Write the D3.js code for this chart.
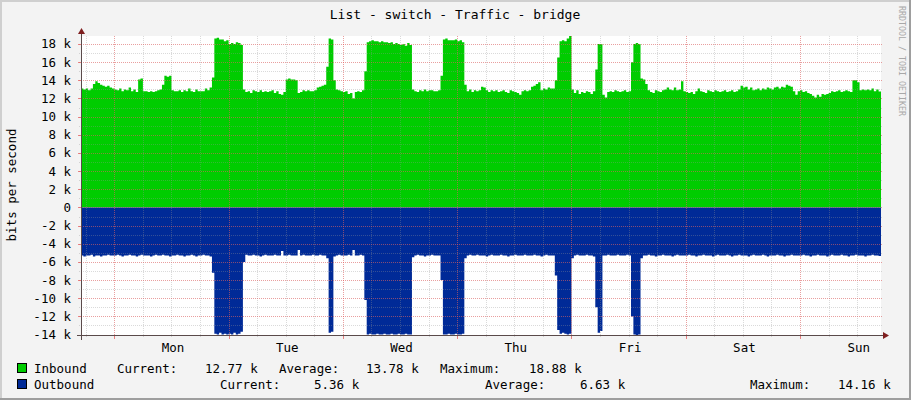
<!DOCTYPE html>
<html>
<head>
<meta charset="utf-8">
<script src="https://cdn.jsdelivr.net/npm/d3@7"></script>
<style>
  body { margin: 0; background: #f3f3f3; }
  svg text { font-family: "DejaVu Sans Mono", monospace; }
</style>
</head>
<body>
<script>
// Traffic values, in kbit/s, one sample every 30 minutes (Sun 17:00 -> Sun 17:00)
var inbound = [
  13.1, 13.0, 13.1, 12.9, 13.1, 13.6, 13.9, 13.7, 13.5, 13.4, 13.3, 13.4, 13.2, 13.1,
  // Mon
  13.0, 12.9, 13.1, 12.8, 13.0, 12.9, 13.2, 12.8, 13.0, 12.7,
  14.1, 14.2, 12.8, 12.8, 12.7, 12.8, 12.7, 12.8, 12.9, 13.0,
  13.5, 14.5, 14.4, 14.5, 12.9, 12.8, 12.8, 12.9, 12.7, 12.9,
  12.8, 13.1, 12.8, 12.7, 13.0, 12.8, 12.8, 12.8, 13.1, 12.9,
  13.2, 14.3, 18.6, 18.7, 18.5, 18.5, 18.3, 18.4,
  // Tue
  18.0, 18.1, 18.0, 18.2, 18.1, 17.9, 13.0, 12.7, 12.8, 12.6,
  12.9, 12.8, 12.7, 12.9, 12.7, 12.8, 12.7, 12.8, 12.9, 12.6,
  12.8, 12.5, 12.4, 12.7, 14.1, 14.2, 14.1, 14.1, 14.0, 12.6,
  12.7, 12.9, 12.8, 12.9, 12.8, 12.8, 12.9, 13.2, 13.3, 13.4,
  13.5, 15.5, 18.6, 18.5, 14.0, 13.0, 12.9, 12.8,
  // Wed
  12.7, 12.8, 12.5, 12.6, 12.0, 12.7, 12.8, 12.7, 12.9, 15.0,
  18.2, 18.3, 18.4, 18.3, 18.3, 18.2, 18.3, 18.2, 18.2, 18.1,
  18.2, 18.0, 18.1, 18.0, 17.9, 18.0, 17.8, 18.1, 17.9, 13.0,
  12.8, 12.7, 12.9, 12.8, 13.0, 12.8, 12.9, 12.9, 12.8, 12.8,
  12.9, 14.5, 18.5, 18.6, 18.4, 18.4, 18.4, 18.5,
  // Thu
  18.3, 18.4, 18.2, 13.5, 12.8, 13.0, 12.7, 12.9, 12.8, 12.9,
  13.3, 13.2, 12.9, 12.7, 12.9, 12.8, 12.9, 12.7, 12.8, 12.9,
  12.7, 12.6, 12.9, 12.8, 12.7, 12.6, 12.4, 12.8, 12.9, 12.8,
  12.9, 13.3, 13.4, 13.6, 13.8, 12.9, 13.1, 13.0, 13.2, 13.1,
  13.1, 14.0, 16.5, 18.3, 18.4, 18.3, 18.6, 18.88,
  // Fri
  13.0, 12.6, 12.9, 12.5, 12.7, 12.6, 12.8, 12.7, 12.5, 12.8,
  15.2, 18.0, 18.0, 12.4, 12.1, 12.7, 12.8, 12.7, 12.9, 12.8,
  12.7, 12.8, 12.9, 12.7, 12.8, 16.0, 18.0, 18.1, 18.0, 14.2,
  14.1, 13.6, 12.9, 12.7, 12.6, 12.9, 12.8, 12.7, 12.9, 13.0,
  13.2, 13.0, 12.9, 13.2, 12.9, 13.0, 13.9, 12.8,
  // Sat
  12.7, 12.6, 12.7, 12.5, 12.8, 13.1, 12.8, 12.7, 12.6, 12.9,
  12.8, 12.7, 12.9, 12.8, 12.7, 12.8, 12.9, 12.7, 12.8, 12.9,
  12.7, 12.8, 13.0, 13.4, 13.2, 13.3, 13.0, 13.2, 12.9, 13.0,
  13.1, 12.9, 13.1, 13.0, 13.2, 13.1, 13.0, 13.2, 13.3, 13.1,
  13.3, 13.2, 13.5, 13.4, 13.3, 12.8, 12.4, 12.8,
  // Sun
  12.9, 12.7, 12.8, 12.6, 12.5, 12.3, 12.1, 12.4, 12.2, 12.5,
  12.4, 12.5, 12.6, 12.8, 12.7, 12.8, 12.9, 12.7, 12.8, 12.9,
  12.8, 12.7, 14.0, 14.0, 13.8, 12.9, 13.0, 12.9, 13.0, 12.9,
  13.1, 12.8, 13.0, 12.77
]

var outbound = [
  5.3, 5.4, 5.3, 5.3, 5.2, 5.4, 5.3, 5.3, 5.4, 5.3, 5.3, 5.2, 5.3, 5.3,
  // Mon
  5.3, 5.2, 5.3, 5.4, 5.3, 5.3, 5.2, 5.3, 5.3, 5.4,
  5.3, 5.2, 5.3, 5.3, 5.3, 5.4, 5.3, 5.2, 5.3, 5.3,
  5.2, 5.3, 5.3, 5.4, 5.3, 5.3, 5.2, 5.3, 5.3, 5.4,
  5.3, 5.3, 5.2, 5.3, 5.4, 5.3, 5.3, 5.2, 5.3, 5.3,
  5.4, 7.2, 13.9, 14.0, 13.8, 14.0, 13.9, 14.0,
  // Tue
  13.9, 14.0, 13.8, 14.0, 13.9, 13.7, 6.0, 5.2, 5.3, 5.3,
  5.2, 5.3, 5.3, 5.4, 5.3, 5.2, 5.3, 5.3, 5.3, 5.2,
  5.3, 5.3, 4.8, 5.3, 5.3, 5.2, 5.3, 5.3, 5.3, 4.7,
  5.3, 5.2, 5.3, 5.3, 5.3, 5.2, 5.3, 5.3, 5.2, 5.3,
  5.3, 5.6, 13.8, 13.7, 5.4, 5.3, 5.2, 5.3,
  // Wed
  5.3, 5.3, 5.2, 5.3, 4.7, 5.3, 5.3, 5.2, 5.3, 10.2,
  14.0, 13.9, 14.0, 14.0, 13.9, 14.0, 14.0, 13.9, 14.0, 14.0,
  13.9, 14.0, 14.0, 13.9, 14.0, 14.0, 13.9, 14.0, 14.0, 5.5,
  5.3, 5.2, 5.3, 5.3, 5.4, 5.3, 5.3, 5.2, 5.3, 5.3,
  5.3, 8.0, 14.0, 14.0, 13.9, 14.0, 14.0, 13.9,
  // Thu
  14.0, 14.0, 13.9, 5.6, 5.3, 5.2, 5.3, 5.3, 5.2, 5.3,
  5.3, 5.3, 5.4, 5.3, 5.2, 5.3, 5.3, 5.3, 5.2, 5.3,
  5.3, 5.4, 5.3, 5.3, 5.2, 5.3, 5.3, 5.3, 5.2, 5.3,
  5.3, 5.3, 5.2, 5.3, 5.3, 5.4, 5.3, 5.2, 5.3, 5.3,
  5.3, 7.5, 13.5, 13.9, 13.8, 13.9, 14.0, 13.9,
  // Fri
  5.6, 5.3, 5.2, 5.3, 5.3, 5.3, 5.2, 5.3, 5.3, 5.4,
  11.0, 13.8, 13.6, 5.3, 5.3, 5.2, 5.3, 5.3, 5.3, 5.2,
  5.3, 5.3, 5.3, 5.2, 5.3, 12.0, 14.0, 14.16, 14.0, 5.6,
  5.3, 5.3, 5.2, 5.3, 5.3, 5.4, 5.3, 5.3, 5.2, 5.3,
  5.3, 5.3, 5.4, 5.3, 5.2, 5.3, 5.3, 5.3,
  // Sat
  5.3, 5.2, 5.3, 5.3, 5.4, 5.3, 5.3, 5.2, 5.3, 5.3,
  5.3, 5.4, 5.3, 5.2, 5.3, 5.3, 5.3, 5.2, 5.3, 5.4,
  5.3, 5.3, 5.2, 5.3, 5.3, 5.3, 5.4, 5.3, 5.2, 5.3,
  5.3, 5.3, 5.2, 5.3, 5.4, 5.3, 5.3, 5.3, 5.2, 5.3,
  5.3, 5.4, 5.3, 5.3, 5.2, 5.3, 5.3, 5.3,
  // Sun
  5.3, 5.2, 5.3, 5.3, 5.4, 5.3, 5.3, 5.2, 5.3, 5.3,
  5.3, 5.4, 5.3, 5.2, 5.3, 5.3, 5.3, 5.2, 5.3, 5.3,
  5.4, 5.3, 5.3, 5.2, 5.3, 5.3, 5.3, 5.4, 5.3, 5.3,
  5.2, 5.3, 5.3, 5.36
]

var dayLabels = ["Mon", "Tue", "Wed", "Thu", "Fri", "Sat", "Sun"]
var yTickValues = [-14, -12, -10, -8, -6, -4, -2, 0, 2, 4, 6, 8, 10, 12, 14, 16, 18]
var seriesNames = ["Inbound", "Outbound"]
var currentText = ["12.77 k", "5.36 k"]
var averageText = ["13.78 k", "6.63 k"]
var maximumText = ["18.88 k", "14.16 k"]

function main() {
    var width = 911, height = 400
    var left = 81, right = 881, top = 36, bottom = 336
    var step = 30 * 60 * 1000
    var start = new Date(2024, 0, 7, 17, 0)
    var end = new Date(+start + 7 * 24 * 3600 * 1000)

    var svg = d3.select('body').append('svg')
        .attr("width", width)
        .attr("height", height)

    // Background and frame.
    svg.append('rect').attr('width', width).attr('height', height).attr('fill', '#f3f3f3')
    svg.append('rect').attr('x', 0).attr('y', 0).attr('width', width).attr('height', 2).attr('fill', '#cfcfcf')
    svg.append('rect').attr('x', 0).attr('y', 0).attr('width', 2).attr('height', height).attr('fill', '#cfcfcf')
    svg.append('rect').attr('x', 0).attr('y', height - 2).attr('width', width).attr('height', 2).attr('fill', '#9e9e9e')
    svg.append('rect').attr('x', width - 2).attr('y', 0).attr('width', 2).attr('height', height).attr('fill', '#9e9e9e')

    // Scales.
    var x = d3.scaleTime().domain([start, end]).range([left, right])
    var y = d3.scaleLinear().domain([-14.16, 18.88]).range([bottom, top])

    // Plot canvas.
    svg.append('rect').attr('x', left).attr('y', top)
        .attr('width', right - left).attr('height', bottom - top).attr('fill', '#ffffff')

    function points(values) {
        var p = values.map(function (v, i) { return { t: new Date(+start + i * step), v: v } })
        p.push({ t: end, v: values[values.length - 1] })
        return p
    }

    var inArea = d3.area().curve(d3.curveStepAfter)
        .x(function (d) { return x(d.t) })
        .y0(y(0))
        .y1(function (d) { return y(d.v) })
    var outArea = d3.area().curve(d3.curveStepAfter)
        .x(function (d) { return x(d.t) })
        .y0(y(0))
        .y1(function (d) { return y(-d.v) })

    svg.append('path').datum(points(inbound)).attr('d', inArea).attr('fill', '#00cc00')
    svg.append('path').datum(points(outbound)).attr('d', outArea).attr('fill', '#002a97')

    // Grid, drawn over the data like rrdtool does.
    var grid = svg.append('g')
    var minorX = x.ticks(d3.timeHour.every(6))
    var majorX = x.ticks(d3.timeDay.every(1))
    var minorY = y.ticks(33)
    var minorColor = 'rgba(150,150,150,0.35)'
    var majorColor = 'rgba(255,70,70,0.4)'

    grid.selectAll('.mx').data(minorX).enter().append('line')
        .attr('x1', function (d) { return Math.round(x(d)) + 0.5 })
        .attr('x2', function (d) { return Math.round(x(d)) + 0.5 })
        .attr('y1', top).attr('y2', bottom + 2)
        .attr('stroke', minorColor).attr('stroke-dasharray', '1,1')
    grid.selectAll('.my').data(minorY).enter().append('line')
        .attr('x1', left - 2).attr('x2', right + 2)
        .attr('y1', function (d) { return Math.round(y(d)) + 0.5 })
        .attr('y2', function (d) { return Math.round(y(d)) + 0.5 })
        .attr('stroke', minorColor).attr('stroke-dasharray', '1,1')
    grid.selectAll('.Mx').data(majorX).enter().append('line')
        .attr('x1', function (d) { return Math.round(x(d)) + 0.5 })
        .attr('x2', function (d) { return Math.round(x(d)) + 0.5 })
        .attr('y1', top).attr('y2', bottom)
        .attr('stroke', majorColor).attr('stroke-dasharray', '1,1')
    grid.selectAll('.Mxt').data(majorX).enter().append('line')
        .attr('x1', function (d) { return Math.round(x(d)) + 0.5 })
        .attr('x2', function (d) { return Math.round(x(d)) + 0.5 })
        .attr('y1', bottom).attr('y2', bottom + 3)
        .attr('stroke', 'rgba(230,80,80,0.7)')
    grid.selectAll('.My').data(yTickValues).enter().append('line')
        .attr('x1', left).attr('x2', right + 2)
        .attr('y1', function (d) { return Math.round(y(d)) + 0.5 })
        .attr('y2', function (d) { return Math.round(y(d)) + 0.5 })
        .attr('stroke', majorColor).attr('stroke-dasharray', '1,1')
    grid.selectAll('.Myt').data(yTickValues).enter().append('line')
        .attr('x1', left - 3).attr('x2', left)
        .attr('y1', function (d) { return Math.round(y(d)) + 0.5 })
        .attr('y2', function (d) { return Math.round(y(d)) + 0.5 })
        .attr('stroke', 'rgba(230,80,80,0.7)')

    // Y axis labels.
    var yAxis = d3.axisLeft(y)
        .tickValues(yTickValues)
        .tickSize(0)
        .tickPadding(10)
        .tickFormat(function (d) { return d === 0 ? "0" : d + " k" })
    var ya = svg.append('g').attr('transform', 'translate(' + left + ',0)').call(yAxis)
    ya.select('.domain').remove()
    ya.selectAll('text').attr('font-size', '12.5px').attr('fill', '#000')
        .attr('font-family', '"DejaVu Sans Mono", monospace')

    // X axis labels at noon of each day.
    var noons = dayLabels.map(function (d, i) { return new Date(2024, 0, 8 + i, 12, 0) })
    var xAxis = d3.axisBottom(x)
        .tickValues(noons)
        .tickSize(0)
        .tickPadding(7)
        .tickFormat(function (d, i) { return dayLabels[i] })
    var xa = svg.append('g').attr('transform', 'translate(1,' + bottom + ')').call(xAxis)
    xa.select('.domain').remove()
    xa.selectAll('text').attr('font-size', '12.5px').attr('fill', '#000')
        .attr('font-family', '"DejaVu Sans Mono", monospace')

    // Axis lines with arrows.
    svg.append('line').attr('x1', left - 4).attr('x2', right + 3)
        .attr('y1', bottom - 0.5).attr('y2', bottom - 0.5).attr('stroke', '#5a4a4a')
    svg.append('line').attr('x1', left + 0.5).attr('x2', left + 0.5)
        .attr('y1', bottom + 4).attr('y2', top - 3).attr('stroke', '#5a4a4a')
    svg.append('path').attr('d', 'M' + (right + 2) + ',' + (bottom - 4) + 'L' + (right + 8) + ',' + (bottom - 0.5) + 'L' + (right + 2) + ',' + (bottom + 3) + 'Z')
        .attr('fill', '#7f1f1f')
    svg.append('path').attr('d', 'M' + (left - 3) + ',' + (top - 2) + 'L' + (left + 0.5) + ',' + (top - 8) + 'L' + (left + 4) + ',' + (top - 2) + 'Z')
        .attr('fill', '#7f1f1f')

    // Title, vertical label, watermark.
    svg.append('text').attr('x', 455).attr('y', 18.5).attr('text-anchor', 'middle')
        .attr('font-size', '13px').text('List - switch - Traffic - bridge')
    svg.append('text').attr('transform', 'translate(15.5,185) rotate(-90)')
        .attr('text-anchor', 'middle').attr('font-size', '12.5px').text('bits per second')
    svg.append('text').attr('transform', 'translate(899,6) rotate(90)')
        .attr('font-size', '8.3px').attr('fill', '#a8a8a8').text('RRDTOOL / TOBI OETIKER')

    // Legend.
    var colors = ['#00cc00', '#002a97']
    var rows = [
        { y: 373, cols: [117, 205, 279, 366, 440, 529] },
        { y: 389, cols: [220, 314, 485, 580, 750, 838] }
    ]
    rows.forEach(function (r, i) {
        svg.append('rect').attr('x', 17.5).attr('y', r.y - 9.5).attr('width', 9).attr('height', 9)
            .attr('fill', colors[i]).attr('stroke', '#000').attr('stroke-width', 1)
        var parts = [seriesNames[i], 'Current:', currentText[i], 'Average:', averageText[i], 'Maximum:', maximumText[i]]
        var xs = [34].concat(r.cols)
        parts.forEach(function (p, j) {
            svg.append('text').attr('x', xs[j]).attr('y', r.y)
                .attr('font-size', '12.5px').text(p)
        })
    })
}
main()
</script>
</body>
</html>
